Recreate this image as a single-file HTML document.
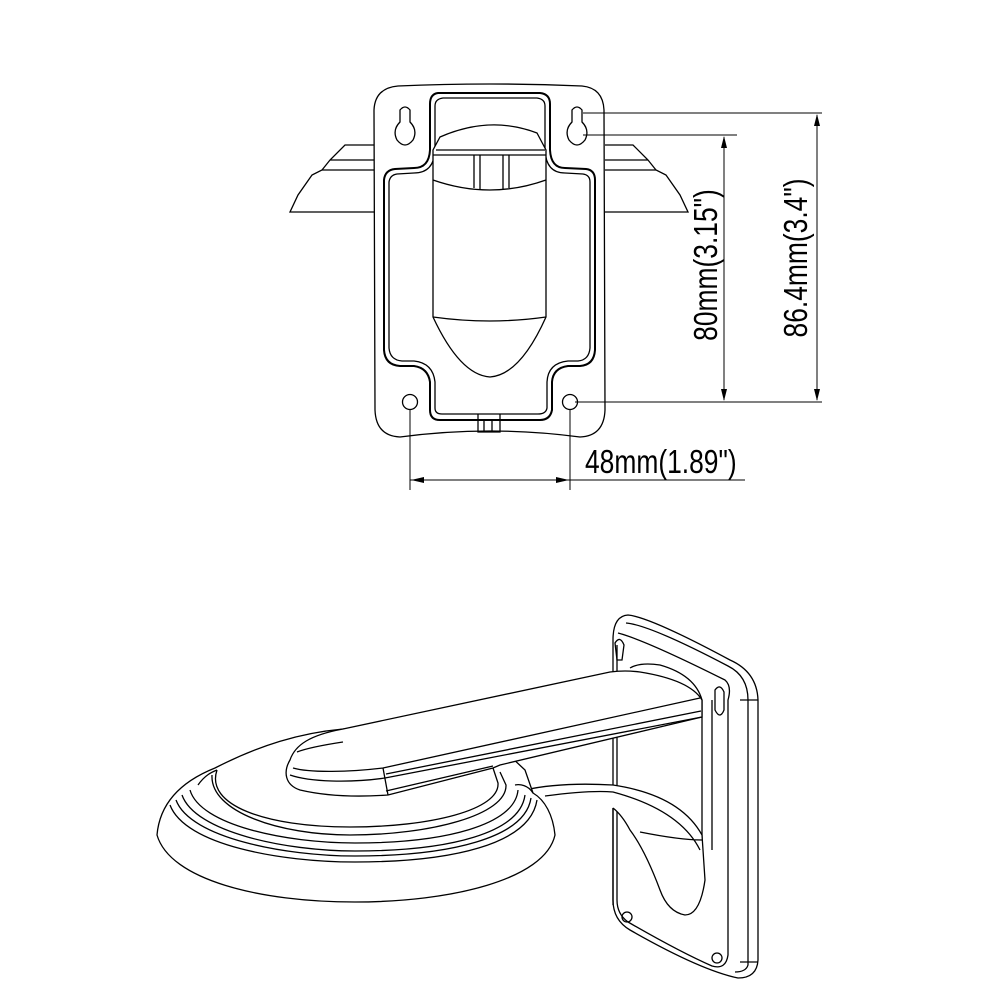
<!DOCTYPE html>
<html><head><meta charset="utf-8"><style>
html,body{margin:0;padding:0;background:#fff;width:1000px;height:1000px;overflow:hidden}
svg{display:block}
text{font-family:"Liberation Sans",sans-serif;fill:#000}
</style></head><body>
<svg width="1000" height="1000" viewBox="0 0 1000 1000" fill="none" stroke="#000" stroke-width="1.3">
<!-- dome sides top view -->
<path d="M375 145 L345 145 L330 160 L322 170 L312 175 L298 195 L290 212 L375 212"/>
<path d="M330 160 L375 160 M322 170 L375 170"/>
<path d="M605 145 L633 145 L648 160 L656 170 L666 175 L680 195 L688 212 L605 212"/>
<path d="M648 160 L605 160 M656 170 L605 170"/>
<!-- plate -->
<path d="M398 86 Q490 82 582 86 Q603 88 604 110 L605 410 Q604 436 580 437 Q490 425 400 437 Q376 436 375 410 L374 110 Q375 88 398 86 Z" fill="#fff"/>
<path d="M400 110 Q405 104 410 110 L410 122 Q418 130 413 140 Q405 150 397 140 Q392 130 400 122 Z"/>
<path d="M572 110 Q577 104 582 110 L582 122 Q590 130 585 140 Q577 150 569 140 Q564 130 572 122 Z"/>
<circle cx="410" cy="402" r="7.5"/><circle cx="570" cy="402" r="7.5"/>
<path d="M438 93 L540 93 Q550 94 550 104 L550 150 Q551 168 565 168 L586 169 Q595 170 595 180 L595 350 Q594 365 580 366 L568 366 Q553 368 552 382 L552 410 Q550 420 540 420 L440 420 Q430 420 430 410 L430 382 Q428 368 414 366 L400 366 Q385 365 384 350 L384 180 Q385 170 395 169 L414 168 Q429 168 430 150 L430 104 Q430 94 438 93 Z" stroke-width="2"/>
<path d="M443 98 L537 98 Q545 99 545 106 L545 150 Q546 173 565 173 L583 174 Q590 175 590 182 L590 348 Q589 360 578 361 L568 361 Q548 363 547 382 L547 408 Q546 414 538 414 L442 414 Q435 414 435 408 L435 382 Q433 363 414 361 L402 361 Q390 360 389 348 L389 182 Q390 175 397 174 L414 173 Q434 173 435 150 L435 106 Q435 99 443 98 Z"/>
<path d="M478 414 L478 432 L500 432 L500 414 M484 420 L484 432 M492 420 L492 432"/>
<path d="M440 137 Q490 115 537 133 L546 150 L546 317 Q520 375 490 377 Q460 375 433 317 L433 150 Z" fill="#fff"/>
<path d="M436 150 L545 150 M433 155 L546 155 M433 180 Q490 200 546 180 M433 317 Q490 325 546 317"/>
<path d="M474 155 L474 188 M480 155 L480 189 M503 155 L503 189 M509 155 L509 188"/>
<!-- dimension lines -->
<g stroke-width="1">
<path d="M583 113 L822 113 M583 135 L737 135 M575 402 L822 402"/>
<path d="M724 137 L724 400 M817 115 L817 400"/>
<path d="M410 410 L410 490 M570 410 L570 490 M410 480 L745 480"/>
</g>
<g fill="#000" stroke="none">
<path d="M724 136 L721 148 L727 148 Z M724 401 L721 389 L727 389 Z"/>
<path d="M817 114 L814 126 L820 126 Z M817 401 L814 389 L820 389 Z"/>
<path d="M411 480 L424 477 L424 483 Z M569 480 L556 477 L556 483 Z"/>
</g>
<g stroke="none">
<text x="0" y="0" font-size="33" transform="translate(717,265) rotate(-90) scale(0.8,1)" text-anchor="middle">80mm(3.15")</text>
<text x="0" y="0" font-size="33" transform="translate(807,258) rotate(-90) scale(0.8,1)" text-anchor="middle">86.4mm(3.4")</text>
<text x="0" y="0" font-size="33" transform="translate(585,473) scale(0.8,1)">48mm(1.89")</text>
</g>
<!-- bottom: wall plate -->
<path d="M628 615 Q650 617 730 660 Q757 672 758 700 L758 960 Q757 978 738 978 Q700 970 630 930 Q613 920 613 900 L613 640 Q613 616 628 615 Z" fill="#fff"/>
<path d="M626 623 Q650 625 728 666 Q748 676 748 700 L748 965 Q746 972 735 972"/>
<path d="M618 633 Q645 640 725 680 Q732 686 728 700 L728 955 Q726 970 712 966 Q680 952 628 922 Q617 914 617 900 L617 645"/>
<path d="M740 700 L758 700 M740 962 L758 962"/>
<circle cx="627" cy="917" r="5"/><circle cx="717" cy="958" r="5"/>
<path d="M615 643 Q620 635 624 645 L622 660 L617 660 Z"/>
<path d="M715 690 Q720 683 724 692 L724 710 Q720 720 715 710 Z"/>
<!-- flange around arm -->
<path d="M630 668 Q640 662 660 665 Q695 675 702 700 L702 860" fill="#fff"/>
<path d="M712 700 L712 850"/>
<!-- neck -->
<path d="M525 790 Q560 782 613 785 Q680 795 702 835 L705 880 Q700 915 685 915 Q668 912 660 890 Q645 850 630 830 Q622 815 613 808" fill="#fff"/>
<path d="M545 796 Q590 790 613 792 Q680 810 700 850 M640 832 Q680 840 702 840"/>
<path d="M613 808 L613 905"/>
<!-- dome -->
<path d="M157 835 C160 800 185 780 215 768 C260 745 300 733 343 729 L480 728 L525 770 L533 793 C545 800 553 815 555 835 C545 880 450 902 355 902 C260 902 170 880 157 835 Z" fill="#fff"/>
<path d="M170 805 C185 845 280 862 355 862 C450 862 530 845 537 800"/>
<path d="M176 800 C190 838 285 856 355 856 C450 856 525 838 531 798"/>
<path d="M182 795 C195 832 285 851 355 851 C450 851 520 833 525 795"/>
<path d="M190 790 C200 825 285 843 355 843 C445 843 515 825 518 790"/>
<path d="M217 770 C205 805 265 827 350 827 C430 827 500 810 498 783 L493 768"/>
<path d="M212 775 C210 812 280 835 350 835 C430 835 507 815 506 785 L500 772"/>
<path d="M198 785 C205 775 212 772 217 770 M533 793 C528 785 520 784 515 785"/>
<!-- arm -->
<path d="M343 729 L610 672 Q625 670 640 672 Q690 680 702 700 L702 717 L500 765 L493 768 L388 795 C360 797 330 797 300 790 C285 785 283 772 290 760 C295 745 310 735 343 729 Z" fill="#fff"/>
<path d="M293 768 C310 773 350 772 383 768 L700 698 M383 768 L388 795"/>
<path d="M290 775 C310 782 350 783 385 778 L702 717"/>
<path d="M386 774 L701 711 M386 791 L493 766"/>
<path d="M297 752 C310 747 330 744 343 742"/>
</svg>
</body></html>
